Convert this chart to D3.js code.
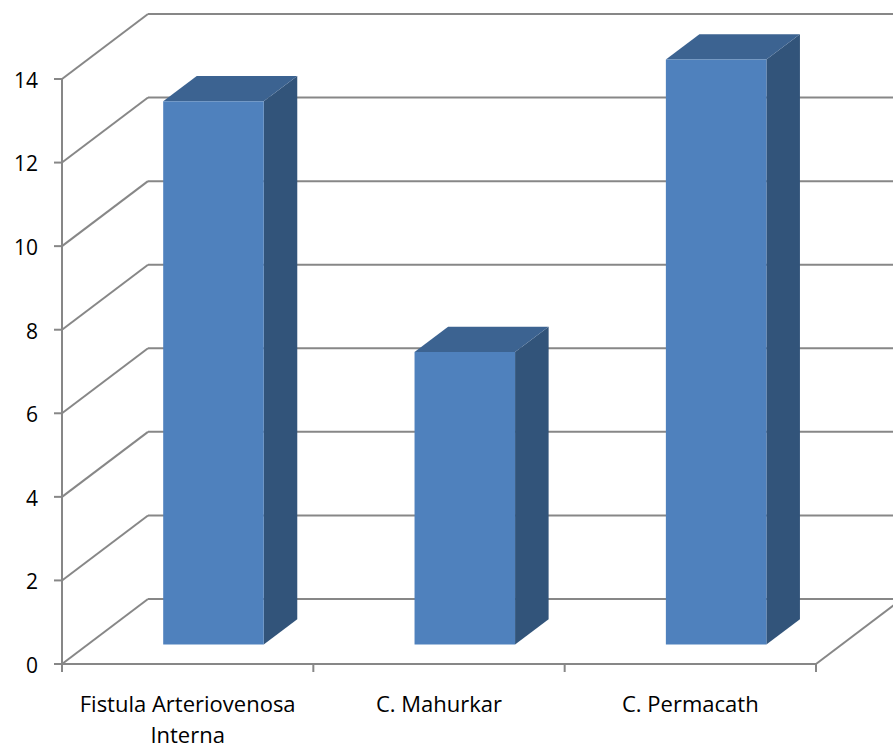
<!DOCTYPE html>
<html>
<head>
<meta charset="utf-8">
<script src="https://cdn.jsdelivr.net/npm/d3@7"></script>
<style>
  html, body { margin: 0; padding: 0; background: #fff; }
  svg { display: block; }
  text { font-family: "Open Sans", "Noto Sans", sans-serif; fill: #000; }
</style>
</head>
<body>
<svg id="chart" width="893" height="749"></svg>
<script>
// ---- data ----
const categories = ["Fistula Arteriovenosa Interna", "C. Mahurkar", "C. Permacath"];
const categoryLabelLines = [["Fistula Arteriovenosa", "Interna"], ["C. Mahurkar"], ["C. Permacath"]];
const values = [13, 7, 14];
const yTicks = [0, 2, 4, 6, 8, 10, 12, 14];

// ---- layout ----
const plotLeft = 62, plotRight = 816, plotBottom = 664, plotTop = 79;
const depthX = 86, depthY = -65;          // full depth projection of the plot box
const barFront = 0.30, barBack = 0.69;    // bar depth range (fraction of box depth)
const barWidthFrac = 0.40;

const colors = {
  grid: "#878787",
  front: "#4F81BD",
  top: "#3C6391",
  side: "#32547A"
};

const svg = d3.select("#chart");
const x = d3.scaleBand().domain(categories).range([plotLeft, plotRight]).padding(0);
const y = d3.scaleLinear().domain([0, 14]).range([plotBottom, plotTop]);

const g = svg.append("g");

// back wall gridlines
g.selectAll("line.grid").data(yTicks).join("line")
  .attr("class", "grid")
  .attr("x1", plotLeft + depthX).attr("x2", plotRight + depthX)
  .attr("y1", d => y(d) + depthY).attr("y2", d => y(d) + depthY)
  .attr("stroke", colors.grid).attr("stroke-width", 2);

// left wall diagonals
g.selectAll("line.diag").data(yTicks).join("line")
  .attr("class", "diag")
  .attr("x1", plotLeft).attr("y1", d => y(d))
  .attr("x2", plotLeft + depthX).attr("y2", d => y(d) + depthY)
  .attr("stroke", colors.grid).attr("stroke-width", 2);

// floor right edge
g.append("line")
  .attr("x1", plotRight).attr("y1", y(0))
  .attr("x2", plotRight + depthX).attr("y2", y(0) + depthY)
  .attr("stroke", colors.grid).attr("stroke-width", 2);

// front floor edge (x axis)
g.append("line")
  .attr("x1", plotLeft).attr("x2", plotRight)
  .attr("y1", y(0)).attr("y2", y(0))
  .attr("stroke", colors.grid).attr("stroke-width", 2);

// category ticks
const catEdges = categories.map(c => x(c)).concat([plotRight]);
g.selectAll("line.xtick").data(catEdges).join("line")
  .attr("class", "xtick")
  .attr("x1", d => d).attr("x2", d => d)
  .attr("y1", y(0)).attr("y2", y(0) + 8)
  .attr("stroke", colors.grid).attr("stroke-width", 2);

// y axis
g.append("line")
  .attr("x1", plotLeft).attr("x2", plotLeft)
  .attr("y1", y(0)).attr("y2", y(14))
  .attr("stroke", colors.grid).attr("stroke-width", 2);
g.selectAll("line.ytick").data(yTicks).join("line")
  .attr("class", "ytick")
  .attr("x1", plotLeft - 8).attr("x2", plotLeft)
  .attr("y1", d => y(d)).attr("y2", d => y(d))
  .attr("stroke", colors.grid).attr("stroke-width", 2);

g.selectAll("text.ylab").data(yTicks).join("text")
  .attr("class", "ylab")
  .attr("x", 38).attr("y", d => y(d) + 1.5)
  .attr("dy", "0.35em")
  .attr("text-anchor", "end")
  .attr("font-size", 21)
  .text(d => d);

// bars
const f1x = depthX * barFront, f1y = depthY * barFront;
const f2x = depthX * barBack, f2y = depthY * barBack;
const bw = x.bandwidth() * barWidthFrac;

const bars = g.selectAll("g.bar").data(categories.map((c, i) => ({ c, v: values[i] }))).join("g")
  .attr("class", "bar");

bars.each(function(d) {
  const gb = d3.select(this);
  const cx = x(d.c) + x.bandwidth() / 2 + f1x;
  const x0 = cx - bw / 2, x1 = cx + bw / 2;
  const yb = y(0) + f1y, yt = y(d.v) + f1y;
  const ddx = f2x - f1x, ddy = f2y - f1y;
  // side
  gb.append("path")
    .attr("d", `M${x1},${yt} L${x1 + ddx},${yt + ddy} L${x1 + ddx},${yb + ddy} L${x1},${yb} Z`)
    .attr("fill", colors.side);
  // top
  gb.append("path")
    .attr("d", `M${x0},${yt} L${x0 + ddx},${yt + ddy} L${x1 + ddx},${yt + ddy} L${x1},${yt} Z`)
    .attr("fill", colors.top);
  // front
  gb.append("rect")
    .attr("x", x0).attr("y", yt)
    .attr("width", bw).attr("height", yb - yt)
    .attr("fill", colors.front);
});

// category labels
const labels = g.selectAll("text.xlab").data(categories.map((c, i) => ({ c, lines: categoryLabelLines[i] }))).join("text")
  .attr("class", "xlab")
  .attr("text-anchor", "middle")
  .attr("font-size", 22);
labels.each(function(d) {
  const t = d3.select(this);
  d.lines.forEach((ln, j) => {
    t.append("tspan")
      .attr("x", x(d.c) + x.bandwidth() / 2)
      .attr("y", 712 + j * 31)
      .text(ln);
  });
});
</script>
</body>
</html>
